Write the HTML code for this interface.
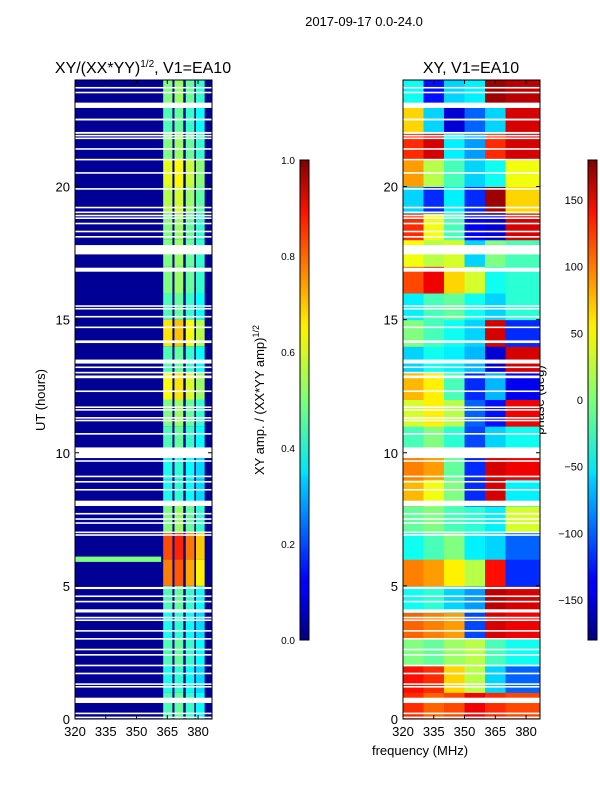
<!DOCTYPE html>
<html><head><meta charset="utf-8"><style>
body{margin:0;background:#fff;width:600px;height:800px;overflow:hidden;font-family:"Liberation Sans",sans-serif}
svg text{font-family:"Liberation Sans",sans-serif;fill:#000}
</style></head><body>
<svg id="fig" width="600" height="800" xmlns="http://www.w3.org/2000/svg">
<text x="364" y="26" font-size="13" text-anchor="middle">2017-09-17 0.0-24.0</text>
<text x="143" y="73" font-size="16" text-anchor="middle">XY/(XX*YY)<tspan font-size="10" dy="-6">1/2</tspan><tspan dy="6">, V1=EA10</tspan></text>
<text x="471" y="73" font-size="16" text-anchor="middle">XY, V1=EA10</text>
<text x="45" y="400" font-size="13" text-anchor="middle" transform="rotate(-90 45 400)">UT (hours)</text>
<text x="420" y="755" font-size="13" text-anchor="middle">frequency (MHz)</text>
<text x="264" y="400" font-size="13" text-anchor="middle" transform="rotate(-90 264 400)">XY amp. / (XX*YY amp)<tspan font-size="9" dy="-5">1/2</tspan></text>
<text x="544" y="400" font-size="13" text-anchor="middle" transform="rotate(-90 544 400)">phase (deg)</text>
<defs>
<clipPath id="cl"><rect x="75" y="80" width="137" height="639"/></clipPath>
<clipPath id="cr"><rect x="403" y="80" width="137" height="639"/></clipPath>
<linearGradient id="jet" x1="0" y1="1" x2="0" y2="0">
<stop offset="0" stop-color="#00007f"/><stop offset="0.11" stop-color="#0000ff"/><stop offset="0.125" stop-color="#0000ff"/><stop offset="0.34" stop-color="#00d4ff"/><stop offset="0.35" stop-color="#00e5f7"/><stop offset="0.5" stop-color="#7cff79"/><stop offset="0.64" stop-color="#f7f400"/><stop offset="0.66" stop-color="#ffea00"/><stop offset="0.89" stop-color="#ff1300"/><stop offset="1" stop-color="#7f0000"/>
</linearGradient>
</defs>
<g id="left" clip-path="url(#cl)"></g>
<g id="right" clip-path="url(#cr)"></g>
<g id="axes"></g>
<rect x="300" y="160" width="9" height="480" fill="url(#jet)" stroke="#000" stroke-width="1"/>
<rect x="588" y="160" width="9" height="480" fill="url(#jet)" stroke="#000" stroke-width="1"/>
</svg>
<script>
// ---- data ----
const hours = [0,1,2,3,4,5,6,7,8,9,10,11,12,13,14,15,16,17,18,19,20,21,22,23];
const ampByHour = [0.45,0.4,0.45,0.4,0.45,0.75,0.8,0.5,0.4,0.4,0.45,0.5,0.62,0.45,0.65,0.45,0.5,0.5,0.5,0.55,0.6,0.5,0.45,0.5];
const subbandLo = [363,368.5,374,379];
const subbandHi = [367.5,372.8,378.2,383.2];
const subbandScale = [1,1.05,0.95,0.85];
const bgAmp = 0.02;
const bandAmp = 0.5;
const phaseCols = [320,330,340,350,360,370,387];
const phase = [
 [120,100,110,140,120,110],
 [130,120,60,20,-60,-100],
 [0,-10,10,20,-20,-40],
 [100,90,80,-110,150,140],
 [-40,-30,-60,-80,160,150],
 [90,80,50,20,130,-120],
 [-40,-20,0,-50,-60,-100],
 [-10,0,-20,-30,-50,30],
 [70,40,0,-120,150,-50],
 [90,80,-10,-120,150,140],
 [-20,0,-30,-110,-60,-40],
 [30,50,20,-100,-130,140],
 [70,50,-20,-120,-70,-140],
 [-60,-40,-50,-70,-150,150],
 [0,-20,-40,-60,150,-120],
 [-50,-20,-10,-40,-60,-30],
 [110,140,60,30,-40,-30],
 [40,20,30,-60,0,-20],
 [120,40,-20,-140,-150,150],
 [-60,-120,-50,-120,170,60],
 [80,20,-20,-60,-40,40],
 [120,150,-50,-80,120,150],
 [60,-60,-150,-100,-60,150],
 [-40,-130,-60,-50,170,160]
];
const gapStart = [23.68,23.5,22.95,22.48,21.98,21.88,21.78,21.38,20.98,20.48,19.88,19.18,19.0,18.88,18.78,18.58,18.28,18.08,17.45,16.8,15.48,15.38,15.08,14.68,14.12,13.35,13.18,12.98,12.8,12.28,11.68,11.58,11.28,11.18,10.68,9.8,9.66,9.08,8.88,8.58,8.0,7.68,7.48,7.33,6.98,6.88,4.88,4.58,4.38,4.0,3.78,3.68,3.28,2.98,2.58,2.38,1.98,1.68,1.28,1.18,0.6,0.18,0.03];
const gapEnd   = [23.74,23.56,23.15,22.55,22.05,21.94,21.84,21.44,21.04,20.54,19.94,19.24,19.06,18.94,18.84,18.64,18.34,18.14,17.8,16.95,15.54,15.44,15.14,14.74,14.22,13.5,13.24,13.04,12.9,12.34,11.74,11.64,11.34,11.24,10.74,10.2,9.72,9.14,8.94,8.64,8.2,7.74,7.54,7.39,7.04,6.94,4.96,4.64,4.44,4.12,3.84,3.74,3.34,3.04,2.64,2.44,2.04,1.74,1.34,1.24,0.8,0.24,0.09];
const yTicks = [0,5,10,15,20];
const xTicks = [320,335,350,365,380];
const ampTicks = [0.0,0.2,0.4,0.6,0.8,1.0];
const phaseTicks = [-150,-100,-50,0,50,100,150];

const fMin=320,fMax=386.8,tMin=0,tMax=24;
function xL(f){return 75+(f-fMin)/(fMax-fMin)*137;}
function xR(f){return 403+(f-fMin)/(fMax-fMin)*137;}
function yT(h){return 719-(h-tMin)/(tMax-tMin)*639;}
function jet(v){v=Math.max(0,Math.min(1,v));
 const c=x=>Math.round(255*Math.max(0,Math.min(1,x)));
 const r=c(Math.min(4*v-1.5,-4*v+4.5)),g=c(Math.min(4*v-0.5,-4*v+3.5)),b=c(Math.min(4*v+0.5,-4*v+2.5));
 return `rgb(${r},${g},${b})`;}
const NS='http://www.w3.org/2000/svg';
function mk(tag,attrs,parent){const e=document.createElementNS(NS,tag);for(const k in attrs)e.setAttribute(k,attrs[k]);parent.appendChild(e);return e;}
const L=document.getElementById('left'),R=document.getElementById('right'),A=document.getElementById('axes');

let bg=mk('rect',{x:xL(fMin),y:yT(24),width:xL(fMax)-xL(fMin),height:yT(0)-yT(24),fill:jet(bgAmp)},L);


hours.forEach((h,i)=>{
 subbandLo.forEach((lo,j)=>{
  const r=mk('rect',{x:xL(lo),y:yT(h+1),width:xL(subbandHi[j])-xL(lo),height:yT(h)-yT(h+1),fill:jet(ampByHour[i]*subbandScale[j])},L);
  
  
 });
});
let band=mk('rect',{x:xL(fMin),y:yT(6.1),width:xL(362)-xL(fMin),height:yT(5.9)-yT(6.1),fill:jet(bandAmp)},L);



hours.forEach((h,i)=>{
 phase[i].forEach((p,j)=>{
  const r=mk('rect',{x:xR(phaseCols[j]),y:yT(h+1),width:xR(phaseCols[j+1])-xR(phaseCols[j])+0.5,height:yT(h)-yT(h+1)+0.5,fill:jet((p+180)/360)},R);
  
  
 });
});
gapStart.forEach((s,i)=>{
 [[L,xL],[R,xR]].forEach(([g,xf])=>{
  const r=mk('rect',{x:xf(fMin),y:yT(gapEnd[i]),width:137,height:Math.max(1,yT(s)-yT(gapEnd[i])),fill:'#fff'},g);
  
  
 });
});

[[75,xL],[403,xR]].forEach(([x0,xf],k)=>{
 const fr=mk('rect',{x:x0,y:80,width:137,height:639,fill:'none',stroke:'#000','stroke-width':1},A);
 
 
 yTicks.forEach(t=>{
  const y=yT(t);
  mk('line',{x1:x0,x2:x0+4,y1:y,y2:y,stroke:'#000'},A);
  mk('line',{x1:x0+133,x2:x0+137,y1:y,y2:y,stroke:'#000'},A);
  const tx=mk('text',{x:x0-5,y:y+5,'font-size':13,'text-anchor':'end'},A);
  tx.textContent=t;
  
  
 });
 xTicks.forEach(t=>{
  const x=xf(t);
  mk('line',{x1:x,x2:x,y1:719,y2:715,stroke:'#000'},A);
  mk('line',{x1:x,x2:x,y1:80,y2:84,stroke:'#000'},A);
  const tx=mk('text',{x:x,y:736,'font-size':13,'text-anchor':'middle'},A);
  tx.textContent=t;
  
  
 });
});
ampTicks.forEach(t=>{
 const y=640-t*480;
 mk('line',{x1:305,x2:309,y1:y,y2:y,stroke:'#000'},A);
 const tx=mk('text',{x:295,y:y+4,'font-size':10,'text-anchor':'end'},A);
 tx.textContent=t.toFixed(1);
 
 
});
phaseTicks.forEach(t=>{
 const y=640-(t+180)/360*480;
 mk('line',{x1:593,x2:597,y1:y,y2:y,stroke:'#000'},A);
 const tx=mk('text',{x:583,y:y+4,'font-size':11,'text-anchor':'end'},A);
 tx.textContent=t<0?'\u2212'+(-t):t;
 
 
});
</script>
</body></html>
